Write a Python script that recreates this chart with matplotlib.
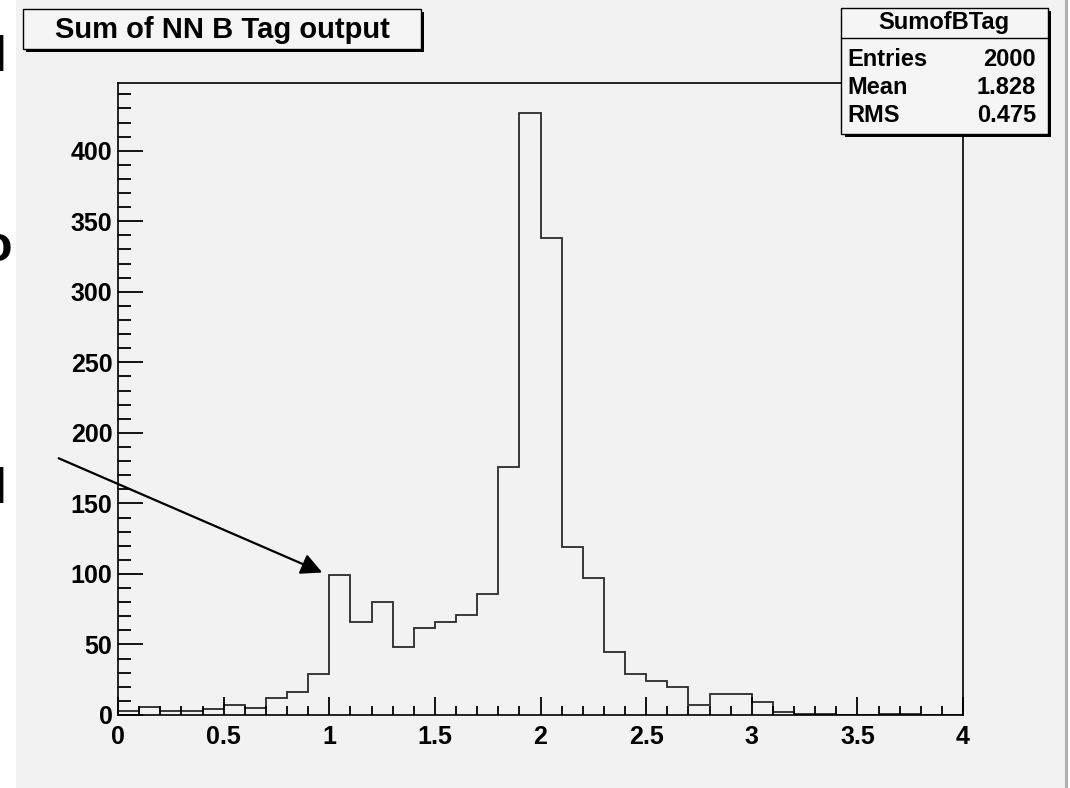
import matplotlib.pyplot as plt
import numpy as np
from matplotlib.patches import Rectangle

# histogram SumofBTag: 40 bins of width 0.1 between 0 and 4
counts = [3, 6, 3, 3, 4, 7, 5, 12, 16, 29,
          99, 66, 80, 48, 62, 66, 71, 86, 176, 427,
          338, 119, 97, 45, 29, 24, 20, 7, 15, 15,
          9, 2, 1, 1, 0, 0, 1, 1, 0, 0]
xmin, xmax, nbins = 0.0, 4.0, 40
edges = np.linspace(xmin, xmax, nbins + 1)

hname = 'SumofBTag'
htitle = 'Sum of NN B Tag output'
stat_names = ['Entries', 'Mean', 'RMS']
stat_values = ['2000', '1.828', '0.475']

xticks = [0, 0.5, 1, 1.5, 2, 2.5, 3, 3.5, 4]
xticklabels = ['0', '0.5', '1', '1.5', '2', '2.5', '3', '3.5', '4']
yticks = [0, 50, 100, 150, 200, 250, 300, 350, 400]

# arrow pointing at the bump near 1
arrow_tail = (-0.281, 182)
arrow_head = (0.967, 101)

W, H = 1070, 788
bg = '#f2f2f2'
font = 'Liberation Sans'

fig = plt.figure(figsize=(W / 100, H / 100), dpi=100)
fig.patch.set_facecolor('white')

def frect(x0, y0, x1, y1, **kw):
    # rectangle given in pixels from the top left corner
    return Rectangle((x0 / W, 1 - y1 / H), (x1 - x0) / W, (y1 - y0) / H,
                     transform=fig.transFigure, **kw)

# canvas, behind the axes
fig.patches.append(frect(16, -2, 1066, H + 2, facecolor=bg, edgecolor='none', zorder=-10))
fig.patches.append(frect(1065, -2, 1068, H + 2, facecolor='#b0b0b0', edgecolor='none', zorder=-10))

# bits of text cut at the left border
fig.text(6 / W, 1 - 58 / H, 'l', ha='right', va='center', fontsize=36,
         family=font, fontweight='bold')
fig.text(13 / W, 1 - 248 / H, 'o', ha='right', va='center', fontsize=36,
         family=font, fontweight='bold')
fig.text(6 / W, 1 - 490 / H, 'l', ha='right', va='center', fontsize=36,
         family=font, fontweight='bold')

ax = fig.add_axes([118 / W, 73 / H, (963 - 118) / W, (715 - 83) / H])
ax.set_facecolor(bg)
ax.stairs(counts, edges, color='#2a2a2a', lw=1.3)
ax.set_xlim(xmin, xmax)
ax.set_ylim(0, 448)

ax.set_xticks(xticks)
ax.set_xticklabels(xticklabels)
ax.set_xticks(np.arange(0, 4.01, 0.1), minor=True)
ax.set_yticks(yticks)
ax.set_yticks(np.arange(0, 441, 10), minor=True)
ax.tick_params(which='both', direction='in', top=False, right=False, width=1.3)
ax.tick_params(axis='x', which='major', length=13, pad=7)
ax.tick_params(axis='x', which='minor', length=6.5)
ax.tick_params(axis='y', which='major', length=18, pad=4)
ax.tick_params(axis='y', which='minor', length=9)
for lab in ax.get_xticklabels() + ax.get_yticklabels():
    lab.set_family(font)
    lab.set_fontweight('bold')
    lab.set_fontsize(18)
for sp in ax.spines.values():
    sp.set_linewidth(1.2)

ax.annotate('', xy=arrow_head, xytext=arrow_tail, annotation_clip=False,
            arrowprops=dict(arrowstyle='-|>', color='black', lw=1.6,
                            mutation_scale=32, shrinkA=0, shrinkB=0))

# title box with shadow
fig.patches.append(frect(26, 12, 424, 52, facecolor='black', edgecolor='none', zorder=5))
fig.patches.append(frect(23, 9, 421, 49, facecolor='#f5f5f5', edgecolor='black', lw=1, zorder=6))
fig.text(222 / W, 1 - 30 / H, htitle, ha='center', va='center',
         fontsize=21, family=font, fontweight='bold', zorder=7)

# statistics box
fig.patches.append(frect(845, 11, 1051, 137, facecolor='black', edgecolor='none', zorder=5))
fig.patches.append(frect(841, 8, 1048, 134, facecolor='#f5f5f5', edgecolor='black', lw=1, zorder=6))
fig.lines.append(plt.Line2D([841 / W, 1048 / W], [1 - 38 / H, 1 - 38 / H],
                            transform=fig.transFigure, color='black', lw=1, zorder=7))
fig.text(944 / W, 1 - 23 / H, hname, ha='center', va='center',
         fontsize=17, family=font, fontweight='bold', zorder=7)
for i, (n, v) in enumerate(zip(stat_names, stat_values)):
    yy = 1 - (60 + 28 * i) / H
    fig.text(847 / W, yy, n, ha='left', va='center', fontsize=17,
             family=font, fontweight='bold', zorder=7)
    fig.text(1036 / W, yy, v, ha='right', va='center', fontsize=17,
             family=font, fontweight='bold', zorder=7)

fig.savefig('out.png', dpi=100, facecolor=fig.get_facecolor())
